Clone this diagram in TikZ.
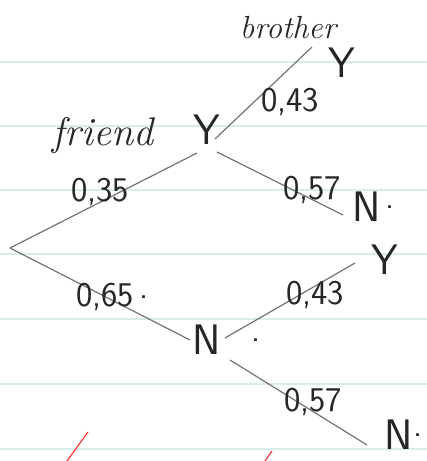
\documentclass[tikz,border=0pt]{standalone}
\usepackage{fontspec}
\usepackage{tikz}
\usetikzlibrary{positioning}
\tikzset{
  tree_label/.style = {inner sep=0pt, text centered, black!85},
  issue_node/.style = {tree_label, font=\sffamily\fontsize{32}{32}\selectfont},% issue Y ou N
  proba_label/.style = {tree_label, font=\sffamily\fontsize{26}{26}\selectfont},% probabilite
  word_label/.style = {tree_label, font=\itshape\fontsize{30}{30}\selectfont},% nom de l'evenement
  branch/.style = {draw=black!55, line width=0.9pt},% branche de l'arbre
  paper_line/.style = {draw=teal!15, line width=1.1pt},% ligne du cahier
  tick_mark/.style = {draw=red!85, line width=0.8pt}% coche rouge
}

\begin{document}
\begin{tikzpicture}[x=0.75pt, y=-0.75pt]
  \useasboundingbox (0,0) rectangle (427,461);
  \foreach \y in {62,126,190,254,319,384,449}
    \draw [paper_line] (0,\y) -- (427,\y);

  % extremites des branches
  \coordinate (start) at (10,248);
  \coordinate (fy_in) at (197,153);
  \coordinate (fy_up) at (215,139);
  \coordinate (fy_dn) at (217,152);
  \coordinate (yy_end) at (312,47);
  \coordinate (yn_end) at (343,215);
  \coordinate (fn_in) at (190,340);
  \coordinate (fn_up) at (225,338);
  \coordinate (fn_dn) at (230,360);
  \coordinate (ny_end) at (355,263);
  \coordinate (nn_end) at (367,445);

  \draw [branch] (start) -- (fy_in);
  \draw [branch] (start) -- (fn_in);
  \draw [branch] (fy_up) -- (yy_end);
  \draw [branch] (fy_dn) -- (yn_end);
  \draw [branch] (fn_up) -- (ny_end);
  \draw [branch] (fn_dn) -- (nn_end);

  % issues
  \node [issue_node] (fY) at (207,130) {Y};
  \node [issue_node] (fN) at (207,340) {N};
  \node [issue_node] (yY) at (342,63) {Y};
  \node [issue_node] (yN) at (367,207) {N};
  \node [issue_node] (nY) at (385,260) {Y};
  \node [issue_node] (nN) at (399,435) {N};
  \node [proba_label, right=0pt of nN] (nN_dot) {.};
  \node [proba_label, right=3pt of yN] (yN_dot) {.};
  \node [proba_label, right=22pt of fN] (fN_dot) {.};

  % evenements
  \node [word_label] (friend) at (103,135) {friend};
  \node [word_label, font=\itshape\fontsize{24}{24}\selectfont] (brother) at (288,28) {brother};

  % probabilites
  \node [proba_label] (p_fy) at (100,192) {0,35};
  \node [proba_label] (p_fn) at (105,297) {0,65};
  \node [proba_label, right=4pt of p_fn] (p_fn_dot) {.};
  \node [proba_label] (p_yy) at (290,102) {0,43};
  \node [proba_label] (p_yn) at (312,190) {0,57};
  \node [proba_label] (p_ny) at (315,295) {0,43};
  \node [proba_label] (p_nn) at (313,402) {0,57};

  % coches
  \draw [tick_mark] (88,432) -- (67,461);
  \draw [tick_mark] (272,451) -- (265,461);
\end{tikzpicture}
\end{document}
